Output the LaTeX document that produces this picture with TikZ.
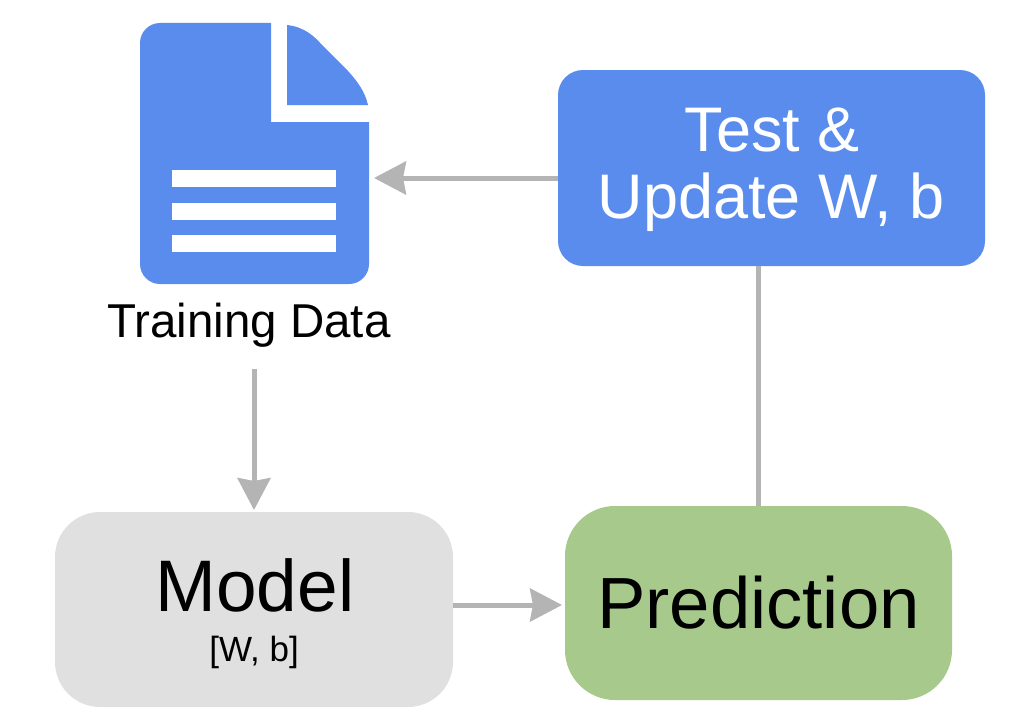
\documentclass[tikz,border=0pt]{standalone}
\usepackage{fontspec}
\setmainfont{Liberation Sans}
\usetikzlibrary{arrows.meta}
\definecolor{xanh}{HTML}{598CEC}
\definecolor{xam}{HTML}{E0E0E0}
\definecolor{luc}{HTML}{A8C98C}
\definecolor{mui}{HTML}{B4B4B4}
\tikzset{
	hop/.style={rounded corners=#1, inner sep=0pt, align=center},
	noi/.style={draw=mui, line width=5pt},
	ten/.style={noi, -{Stealth[length=32pt,width=33pt,inset=3pt]}}
}
\begin{document}
\begin{tikzpicture}[x=1pt, y=-1pt, line join=round]
	\useasboundingbox (0,0) rectangle (1024,725);
	% hộp
	\node[hop=25pt, fill=xanh, minimum width=427pt, minimum height=196pt] (test) at (771.5,168) {};
	\node[text=white, inner sep=0pt, font=\fontsize{63}{70}\selectfont] (testname) at (772,130) {Test \&};
	\node[text=white, inner sep=0pt, font=\fontsize{63}{70}\selectfont] (testupdate) at (771,202) {Update W, b};
	\node[hop=45pt, fill=xam, minimum width=398pt, minimum height=195pt] (model) at (254,609.5) {};
	\node[font=\fontsize{73}{80}\selectfont, inner sep=0pt] (modelname) at (255,585) {Model};
	\node[font=\fontsize{35}{40}\selectfont, inner sep=0pt] (modelparam) at (254,652) {[W, b]};
	\node[hop=50pt, fill=luc, minimum width=387pt, minimum height=194pt, font=\fontsize{72.5}{80}\selectfont] (pred) at (758.5,603) {Prediction};
	% tài liệu
	\fill[xanh, rounded corners=20pt] (271,23) -- (140,23) -- (140,284) -- (369,284) [sharp corners] -- (369,122) -- (271,122) -- cycle;
	\fill[xanh] (287,25) .. controls (305,27) and (315,37) .. (322,45) -- (348,71) .. controls (358,82) and (365,92) .. (368,105) -- (287,105) -- cycle;
	\foreach \y in {170,203,235}\fill[white] (172,\y) rectangle (336,\y+17);
	\node[font=\fontsize{47.5}{54}\selectfont, inner sep=0pt] (trainlabel) at (249,325) {Training Data};
	% nối
	\coordinate (docright) at (374,178);
	\coordinate (trainout) at (254,369);
	\coordinate (modelout) at (453,605);
	\coordinate (predin) at (562,605);
	\draw[ten] (docright -| test.west) -- (docright);
	\draw[ten] (trainout) -- (254,510);
	\draw[ten] (modelout) -- (predin);
	\draw[noi] (pred.north -| 758,0) -- (test.south -| 758,0);
\end{tikzpicture}
\end{document}
